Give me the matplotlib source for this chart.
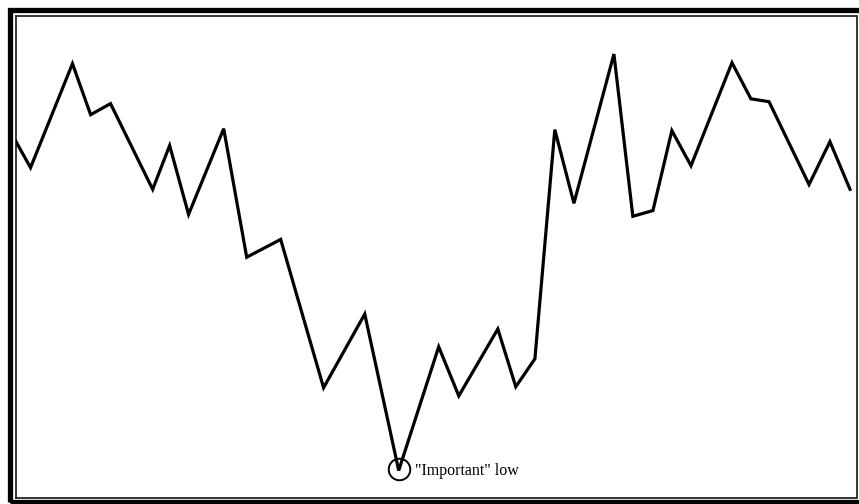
import matplotlib.pyplot as plt
from matplotlib.patches import Rectangle

# price path (time in bars, price on a 0-100 scale)
t = [0, 0.77, 2.92, 3.85, 4.87, 7.03, 7.9, 8.87, 10.67, 11.85, 13.59,
     15.79, 17.9, 19.64, 21.69, 22.72, 24.72, 25.64, 26.62, 27.64, 28.62,
     30.67, 31.64, 32.67, 33.64, 34.62, 36.72, 37.69, 38.62, 40.67, 41.74, 42.77]
price = [74.1, 68.5, 90.1, 79.5, 81.8, 64.0, 73.1, 58.8, 76.6, 49.9, 53.6,
         22.8, 38.1, 5.6, 31.3, 21.1, 35.0, 23.0, 28.8, 76.4, 61.1,
         92.1, 58.4, 59.6, 76.2, 68.9, 90.3, 82.8, 82.2, 65.0, 73.9, 64.0]
low_idx = 13
low_label = '"Important" low'

W, H = 859, 504
fig = plt.figure(figsize=(W / 100, H / 100), dpi=100)
fig.patch.set_facecolor('white')

# thick outer frame, partly running off the right/bottom edge
fig.patches.append(Rectangle((9.5 / W, 1 - 502 / H), (863 - 9.5) / W, (502 - 9.5) / H,
                             transform=fig.transFigure, fill=False,
                             lw=3.8, edgecolor='black'))

ax = fig.add_axes([15.5 / W, 1 - 497.5 / H, (856.5 - 15.5) / W, (497.5 - 16) / H])
ax.plot(t, price, color='black', lw=2.3, solid_joinstyle='miter')
ax.plot(t[low_idx], price[low_idx] + 0.3, marker='o', ms=15.5, mfc='none',
        mec='black', mew=1.4)
ax.annotate(low_label, (t[low_idx], price[low_idx]), xytext=(11.5, -3),
            textcoords='offset points', va='baseline', ha='left',
            fontsize=11.5, family='Liberation Serif')

ax.set_xlim(0, (856.5 - 16) / 19.5)
ax.set_ylim(0, 100)
ax.set_xticks([])
ax.set_yticks([])
for s in ax.spines.values():
    s.set_linewidth(1.1)

fig.savefig('out.png', dpi=100)
